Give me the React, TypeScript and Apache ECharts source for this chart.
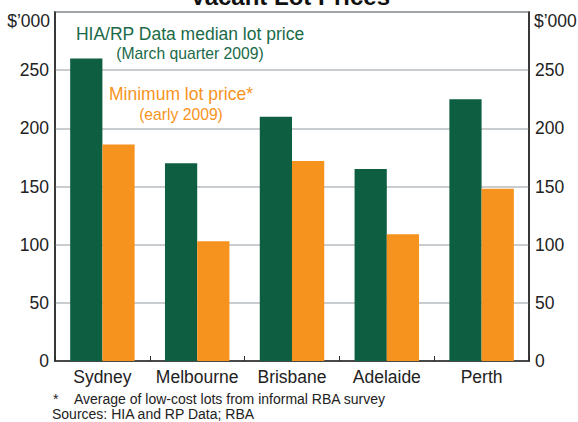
import React, { useEffect, useRef } from "react";
import * as echarts from "echarts";

const cities = ["Sydney", "Melbourne", "Brisbane", "Adelaide", "Perth"];
const medianLotPrice = [260, 170, 210, 165, 225];
const minimumLotPrice = [186, 103, 172, 109, 148];
const yMin = 0;
const yMax = 300;
const yStep = 50;

const FONT = "'Liberation Sans', Arial, Helvetica, sans-serif";
const GREEN = "#0e5e41";
const ORANGE = "#f6921e";
const TEXT_GREEN = "#1a6a48";
const TEXT_ORANGE = "#f7941d";

export default function App() {
  const ref = useRef<HTMLDivElement>(null);
  useEffect(() => {
    document.body.style.margin = "0";
    const chart = echarts.init(ref.current!, undefined, { renderer: "svg" });
    const yLabel = (v: number) => (v === yMax ? "" : String(v));
    const yAxisBase = {
      type: "value" as const,
      min: yMin,
      max: yMax,
      interval: yStep,
      axisLine: { show: true, lineStyle: { color: "#2b2b2b", width: 1.5 } },
      axisTick: { show: false },
      splitLine: { show: true, lineStyle: { color: "#b9bdc1", width: 1.5 } },
      axisLabel: {
        formatter: yLabel,
        color: "#222",
        fontSize: 17.5,
        fontFamily: FONT,
        margin: 6,
      },
    };
    chart.setOption({
      animation: false,
      backgroundColor: "#ffffff",
      grid: {
        left: 55,
        right: 49,
        top: 12,
        bottom: 61,
        show: true,
        borderColor: "#2b2b2b",
        borderWidth: 1.5,
        backgroundColor: "transparent",
      },
      xAxis: {
        type: "category",
        data: cities,
        axisLine: { show: true, lineStyle: { color: "#2b2b2b", width: 1.5 } },
        axisTick: { show: true, inside: true, length: 5, interval: 0, lineStyle: { color: "#2b2b2b", width: 1 } },
        axisLabel: { interval: 0, color: "#222", fontSize: 17.5, fontFamily: FONT, margin: 7 },
      },
      yAxis: [
        { ...yAxisBase, position: "left" },
        { ...yAxisBase, position: "right", splitLine: { show: false } },
      ],
      series: [
        {
          name: "HIA/RP Data median lot price",
          type: "bar",
          data: medianLotPrice,
          barGap: "0%",
          barCategoryGap: "32%",
          itemStyle: { color: GREEN },
        },
        {
          name: "Minimum lot price*",
          type: "bar",
          data: minimumLotPrice,
          barGap: "0%",
          barCategoryGap: "32%",
          itemStyle: { color: ORANGE },
        },
      ],
      graphic: [
        {
          type: "text",
          x: 290,
          y: 8,
          style: {
            text: "Vacant Lot Prices",
            fontSize: 24,
            fontWeight: "bold",
            fontFamily: FONT,
            fill: "#111",
            align: "center",
            verticalAlign: "bottom",
          },
        },
        {
          type: "text",
          x: 50,
          y: 21,
          style: { text: "$’000", fontSize: 17.5, fontFamily: FONT, fill: "#222", align: "right", verticalAlign: "middle" },
        },
        {
          type: "text",
          x: 534,
          y: 21,
          style: { text: "$’000", fontSize: 17.5, fontFamily: FONT, fill: "#222", align: "left", verticalAlign: "middle" },
        },
        {
          type: "text",
          x: 190,
          y: 34,
          style: { text: "HIA/RP Data median lot price", fontSize: 17.5, fontFamily: FONT, fill: TEXT_GREEN, align: "center", verticalAlign: "middle" },
        },
        {
          type: "text",
          x: 190,
          y: 53,
          style: { text: "(March quarter 2009)", fontSize: 15.7, fontFamily: FONT, fill: TEXT_GREEN, align: "center", verticalAlign: "middle" },
        },
        {
          type: "text",
          x: 181,
          y: 94,
          style: { text: "Minimum lot price*", fontSize: 17.5, fontFamily: FONT, fill: TEXT_ORANGE, align: "center", verticalAlign: "middle" },
        },
        {
          type: "text",
          x: 181,
          y: 114,
          style: { text: "(early 2009)", fontSize: 15.7, fontFamily: FONT, fill: TEXT_ORANGE, align: "center", verticalAlign: "middle" },
        },
        {
          type: "text",
          x: 53,
          y: 399,
          style: { text: "*", fontSize: 14, fontFamily: FONT, fill: "#222", align: "left", verticalAlign: "middle" },
        },
        {
          type: "text",
          x: 74,
          y: 399,
          style: { text: "Average of low-cost lots from informal RBA survey", fontSize: 14, fontFamily: FONT, fill: "#222", align: "left", verticalAlign: "middle" },
        },
        {
          type: "text",
          x: 52,
          y: 414,
          style: { text: "Sources: HIA and RP Data; RBA", fontSize: 14, fontFamily: FONT, fill: "#222", align: "left", verticalAlign: "middle" },
        },
      ],
    });
    return () => chart.dispose();
  }, []);
  return (
    <div
      ref={ref}
      style={{ position: "absolute", left: 0, top: 0, width: 578, height: 422 }}
    />
  );
}
